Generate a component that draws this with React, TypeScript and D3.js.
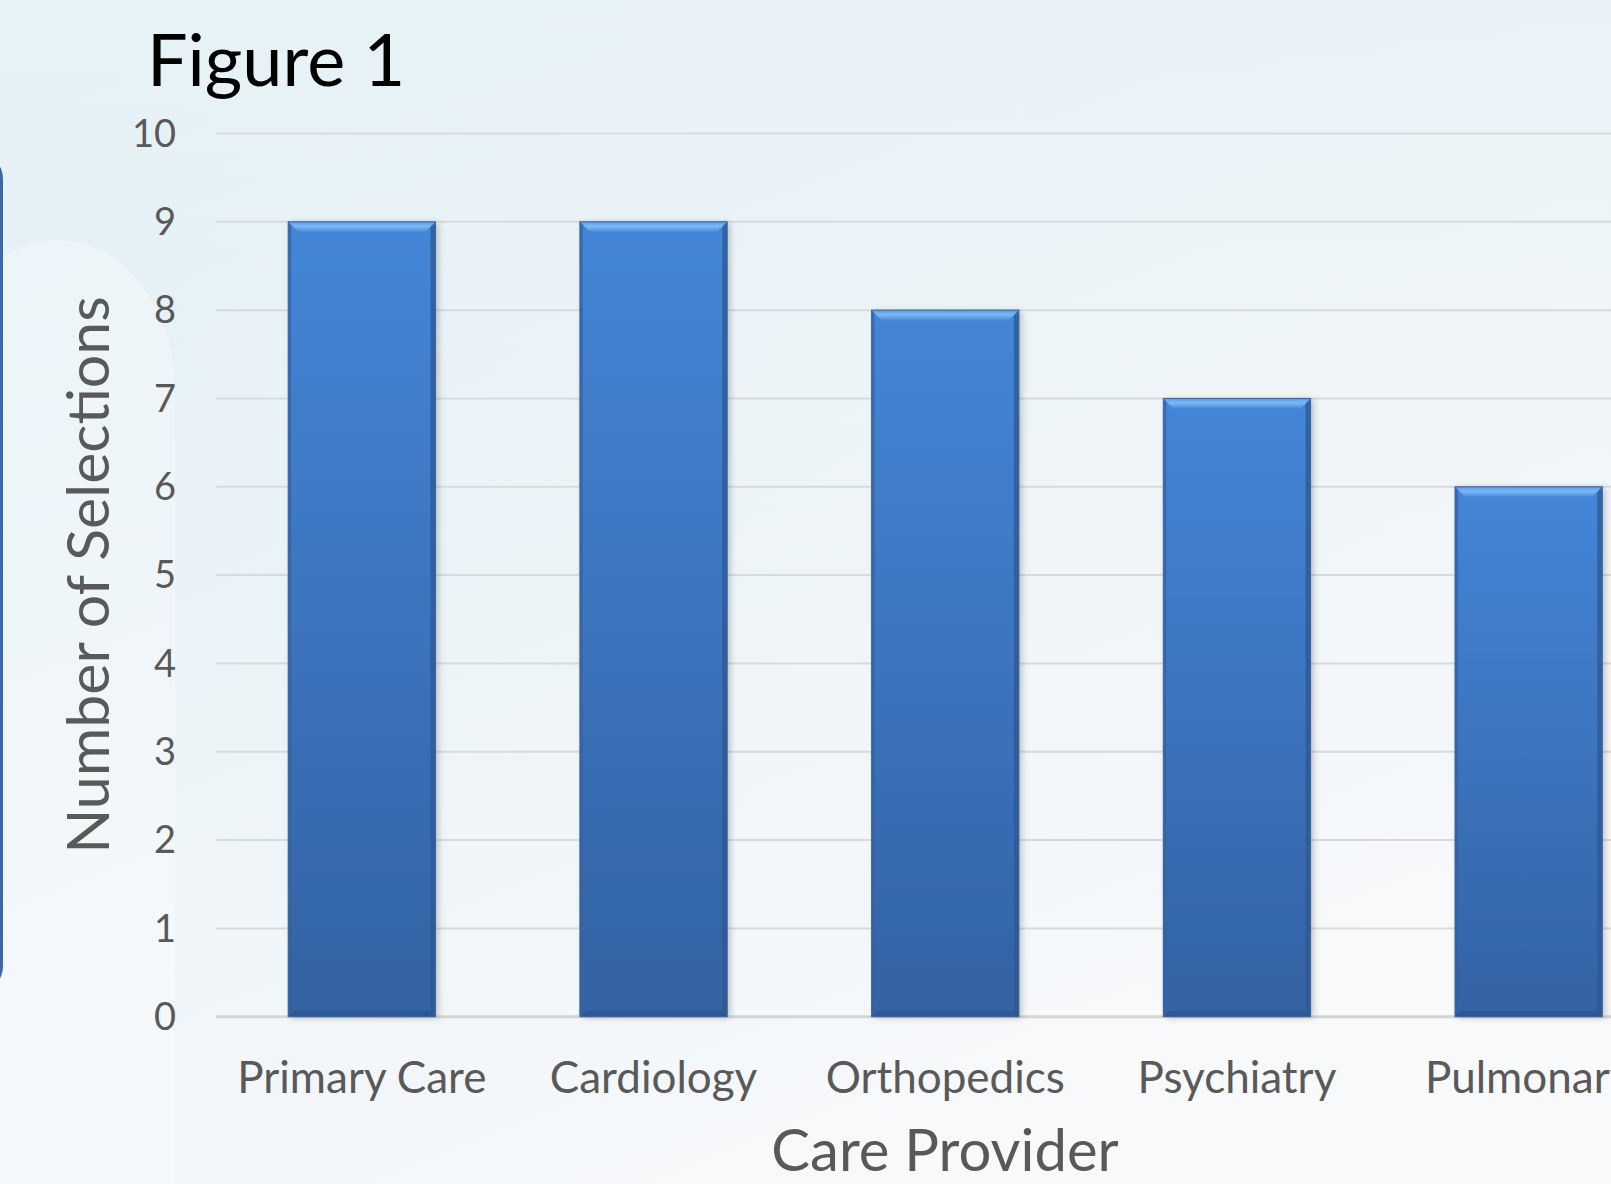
import React from 'react';
import * as d3 from 'd3';

// Figure 1 - number of selections per care provider
const categories = ['Primary Care', 'Cardiology', 'Orthopedics', 'Psychiatry', 'Pulmonary'];
const selections = [9, 9, 8, 7, 6];
const yTicks = [0, 1, 2, 3, 4, 5, 6, 7, 8, 9, 10];

const W = 1611;
const H = 1184;
const FONT = "Lato, 'Open Sans', sans-serif";

const App = () => {
    // plot area runs past the right edge of the picture (the last label is cut, as in the source)
    const x = d3.scaleBand<string>()
        .domain(categories)
        .range([216, 1674.5])
        .paddingInner(0.495)
        .paddingOuter(0.2475);

    const y = d3.scaleLinear()
        .domain([0, 10])
        .range([1016.7, 133.5]);

    const bw = x.bandwidth();
    const bevel = 10;

    return (
        <svg width={W} height={H} style={{ position: 'absolute', left: 0, top: 0, display: 'block' }}>
            <defs>
                <linearGradient id="bg" x1="0" y1="0" x2="0.55" y2="1">
                    <stop offset="0" stopColor="#d5eaf4" />
                    <stop offset="0.45" stopColor="#eaf3f7" />
                    <stop offset="1" stopColor="#f8f9fb" />
                </linearGradient>
                <linearGradient id="bgTop" x1="0" y1="0" x2="0" y2="1">
                    <stop offset="0" stopColor="#e9f3f7" stopOpacity="0.9" />
                    <stop offset="0.5" stopColor="#f4f7f9" stopOpacity="0" />
                </linearGradient>
                <linearGradient id="barFill" x1="0" y1="0" x2="0" y2="1">
                    <stop offset="0" stopColor="#4486d8" />
                    <stop offset="1" stopColor="#3462a3" />
                </linearGradient>
                <linearGradient id="barTop" x1="0" y1="0" x2="0" y2="1">
                    <stop offset="0" stopColor="#5c9ae0" />
                    <stop offset="0.45" stopColor="#7bbaf6" />
                    <stop offset="1" stopColor="#4a8bd9" />
                </linearGradient>
                <filter id="shadow" x="-10%" y="-5%" width="125%" height="110%">
                    <feDropShadow dx="3" dy="1" stdDeviation="3" floodColor="#000" floodOpacity="0.22" />
                </filter>
            </defs>

            {/* slide background */}
            <rect x={0} y={0} width={W} height={H} fill="url(#bg)" />
            <rect x={0} y={0} width={W} height={H} fill="url(#bgTop)" />
            <rect x={-60} y={240} width={235} height={1100} rx={150} fill="#ffffff" opacity={0.3} />
            <rect x={-20} y={160} width={23} height={825} rx={20} fill="#3a69a5" />

            {/* title */}
            <text x={147} y={86} fontFamily={FONT} fontSize={72} fill="#000">Figure 1</text>

            {/* gridlines */}
            {yTicks.map(t => (
                <line key={t} x1={216} x2={W} y1={y(t)} y2={y(t)}
                    stroke={t === 0 ? '#d4d4d4' : '#dadada'} strokeWidth={t === 0 ? 3 : 2} />
            ))}

            {/* y tick labels */}
            {yTicks.map(t => (
                <text key={t} x={176} y={y(t)} dy="0.35em" textAnchor="end"
                    fontFamily={FONT} fontSize={38} fill="#595959">{t}</text>
            ))}

            {/* bars */}
            {categories.map((c, i) => {
                const x0 = x(c)!;
                const y0 = y(selections[i]);
                const y1 = y(0);
                return (
                    <g key={c}>
                        <rect x={x0} y={y0} width={bw} height={y1 - y0} fill="url(#barFill)" filter="url(#shadow)" />
                        <rect x={x0} y={y0} width={3} height={y1 - y0} fill="#3460a0" opacity={0.7} />
                        <rect x={x0 + bw - 5} y={y0} width={5} height={y1 - y0} fill="#2d5790" opacity={0.75} />
                        <path d={`M${x0},${y0} L${x0 + bw},${y0} L${x0 + bw - bevel},${y0 + bevel} L${x0 + bevel},${y0 + bevel} Z`}
                            fill="url(#barTop)" />
                        <path d={`M${x0},${y1} L${x0 + bw},${y1} L${x0 + bw - 6},${y1 - 6} L${x0 + 6},${y1 - 6} Z`}
                            fill="#2c5690" opacity={0.8} />
                        <rect x={x0} y={y0} width={bw} height={y1 - y0} fill="none" stroke="#3a67a5" strokeWidth={1} />
                    </g>
                );
            })}

            {/* category labels */}
            {categories.map(c => (
                <text key={c} x={x(c)! + bw / 2} y={1093} textAnchor="middle"
                    fontFamily={FONT} fontSize={44} fill="#595959">{c}</text>
            ))}

            {/* axis titles */}
            <text x={945} y={1171} textAnchor="middle" fontFamily={FONT} fontSize={58} fill="#595959">Care Provider</text>
            <text transform="translate(109,575) rotate(-90)" textAnchor="middle"
                fontFamily={FONT} fontSize={59} fill="#595959">Number of Selections</text>
        </svg>
    );
};

export default App;
